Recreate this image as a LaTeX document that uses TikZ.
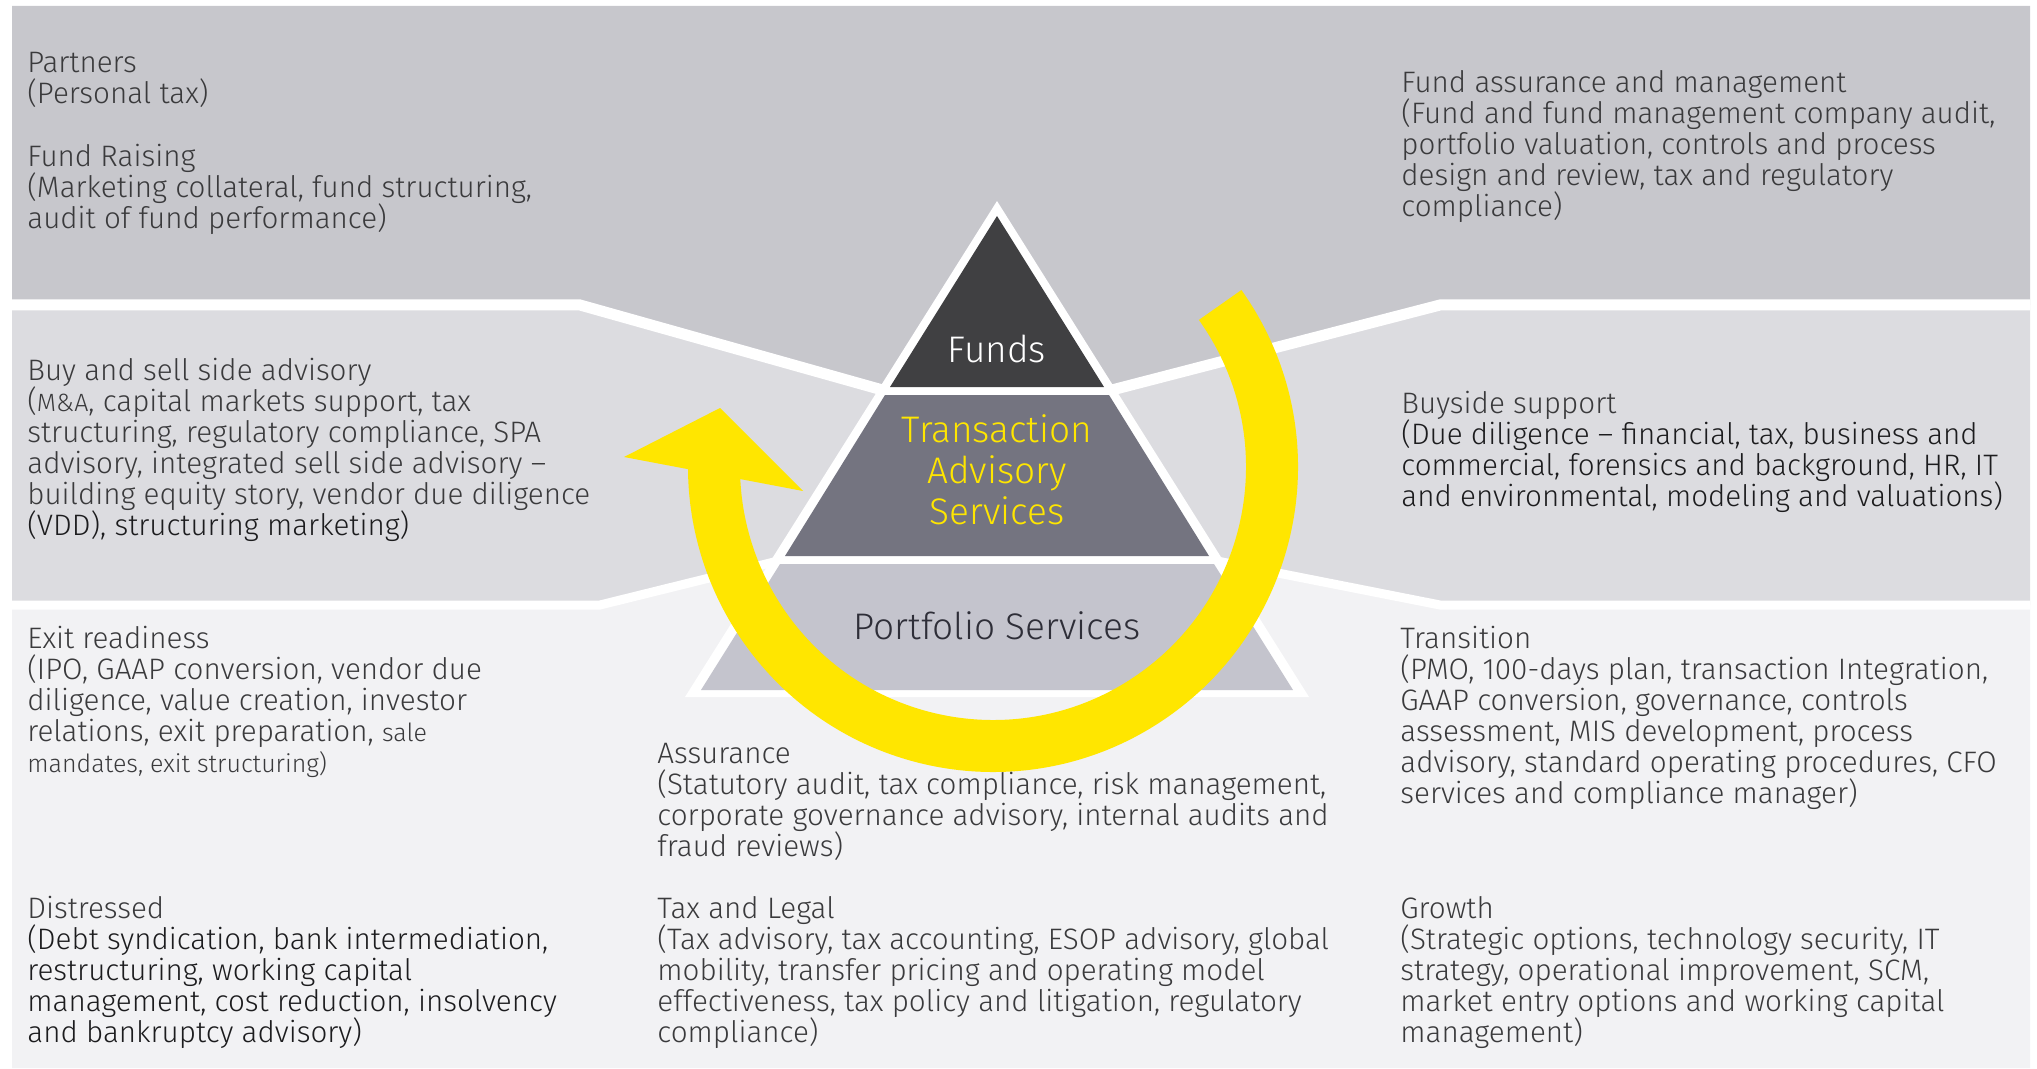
\documentclass[tikz,border=0pt]{standalone}
\usepackage{fontspec}
\setmainfont{Fira Sans Light}
\definecolor{bandtop}{RGB}{199,199,204}
\definecolor{bandmid}{RGB}{220,220,224}
\definecolor{bandlow}{RGB}{242,242,244}
\definecolor{fundsgrey}{RGB}{64,64,66}
\definecolor{tasgrey}{RGB}{116,116,128}
\definecolor{portgrey}{RGB}{196,196,205}
\definecolor{eyyellow}{RGB}{255,230,0}
\definecolor{ink}{RGB}{58,58,60}
\definecolor{deepink}{RGB}{28,28,30}
\definecolor{portink}{RGB}{46,46,56}
\newcommand{\smalltxt}{\fontsize{12.5}{15.5}\selectfont}

\begin{document}
\begin{tikzpicture}[
    x=0.5pt, y=-0.5pt,
    sep/.style={white, line width=5.5pt},
    thinsep/.style={white, line width=4.5pt},
    infotext/.style={anchor=base west, align=left, inner sep=0pt, text=ink,
      font=\fontsize{14.8}{15.5}\selectfont},
    layerlabel/.style={anchor=base, align=center, inner sep=0pt,
      font=\fontsize{18.5}{20.5}\selectfont}
    ]
    \useasboundingbox (0,0) rectangle (2037,1069);
    % the three bands
    \fill[bandtop] (12,6) -- (2030,6) -- (2030,305) -- (1440,305) -- (1108,391)
      -- (886,391) -- (580,305) -- (12,305) -- cycle;
    \fill[bandmid] (12,305) -- (580,305) -- (886,391) -- (1108,391) -- (1440,305)
      -- (2030,305) -- (2030,605) -- (1440,605) -- (1212,560) -- (782,560)
      -- (600,605) -- (12,605) -- cycle;
    \fill[bandlow] (12,605) -- (600,605) -- (782,560) -- (1212,560) -- (1440,605)
      -- (2030,605) -- (2030,1068) -- (12,1068) -- cycle;
    \draw[sep] (12,305) -- (580,305) -- (886,391);
    \draw[sep] (1108,391) -- (1440,305) -- (2030,305);
    \draw[thinsep] (12,605) -- (600,605) -- (782,560);
    \draw[thinsep] (1212,560) -- (1440,605) -- (2030,605);
    % pyramid
    \fill[white] (997,201) -- (1309,697) -- (685,697) -- cycle;
    \fill[fundsgrey] (997,216) -- (1104,387) -- (890,387) -- cycle;
    \fill[tasgrey] (885,395) -- (1109,395) -- (1209,556) -- (785,556) -- cycle;
    \fill[portgrey] (780,564) -- (1214,564) -- (1293,690) -- (701,690) -- cycle;
    % (base anchor of a multi-line node = baseline of its last line)
    \node[layerlabel, text=white] (funds) at (997,362) {Funds};
    \node[layerlabel, text=eyyellow] (tas) at (997,524) {Transaction\\Advisory\\Services};
    \node[layerlabel, text=portink] (portfolio) at (997,639) {Portfolio Services};
    % cycle arrow
    \draw[eyyellow, line width=26pt] (993,467) ++(-35.5:279)
      arc[start angle=-35.5, end angle=180, radius=279];
    \fill[eyyellow] (624,457) -- (720,408) -- (803,491) -- cycle;
    % service texts
    \node[infotext] (partners) at (27,104) {Partners\\(Personal tax)};
    \node[infotext] (fundraising) at (27,229) {Fund Raising\\(Marketing collateral, fund structuring,\\audit of fund performance)};
    \node[infotext] (fundassure) at (1401,217) {Fund assurance and management\\(Fund and fund management company audit,\\portfolio valuation, controls and process\\design and review, tax and regulatory\\compliance)};
    \node[infotext] (buysell) at (27,535) {Buy and sell side advisory\\({\smalltxt M\&A}, capital markets support, tax\\structuring, regulatory compliance, SPA\\advisory, integrated sell side advisory –\\building equity story, vendor due diligence\\\textcolor{deepink}{(VDD), structuring marketing)}};
    \node[infotext, text=deepink] (buyside) at (1401,506) {\textcolor{ink}{Buyside support}\\(Due diligence – financial, tax, business and\\commercial, forensics and background, HR, IT\\and environmental, modeling and valuations)};
    \node[infotext] (exit) at (27,772) {Exit readiness\\(IPO, GAAP conversion, vendor due\\diligence, value creation, investor\\relations, exit preparation, {\smalltxt sale}\\{\smalltxt mandates, exit structuring)}};
    \node[infotext, text=deepink] (distressed) at (27,1042) {\textcolor{ink}{Distressed}\\(Debt syndication, bank intermediation,\\restructuring, working capital\\management, cost reduction, insolvency\\and bankruptcy advisory)};
    \node[infotext] (assurance) at (657,856) {Assurance\\(Statutory audit, tax compliance, risk management,\\corporate governance advisory, internal audits and\\fraud reviews)};
    \node[infotext] (taxlegal) at (657,1042) {Tax and Legal\\(Tax advisory, tax accounting, ESOP advisory, global\\mobility, transfer pricing and operating model\\effectiveness, tax policy and litigation, regulatory\\compliance)};
    \node[infotext] (transition) at (1400,803) {Transition\\(PMO, 100-days plan, transaction Integration,\\GAAP conversion, governance, controls\\assessment, MIS development, process\\advisory, standard operating procedures, CFO\\services and compliance manager)};
    \node[infotext] (growth) at (1400,1042) {Growth\\(Strategic options, technology security, IT\\strategy, operational improvement, SCM,\\market entry options and working capital\\management)};
\end{tikzpicture}
\end{document}
